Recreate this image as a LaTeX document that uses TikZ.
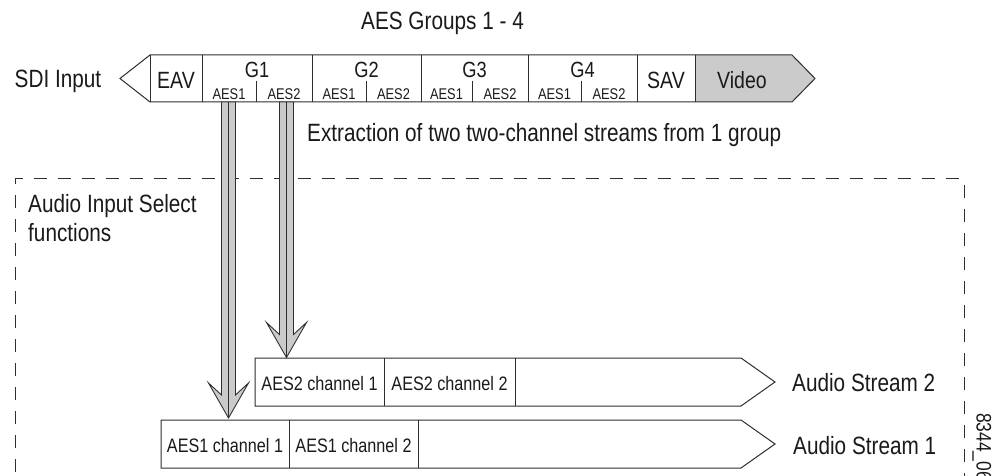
\documentclass[tikz,border=0pt]{standalone}
\usepackage{fontspec}
\setmainfont[FakeStretch=0.83]{Liberation Sans}
\usetikzlibrary{calc}
\definecolor{ln}{HTML}{2E2E2E}
\definecolor{tx}{HTML}{1A1A1A}
\definecolor{fillg}{HTML}{CBCBCB}
\newcommand\fatarrow[2]{%
  \filldraw[arrowbody] let \p1=(#1), \p2=(#2) in
    (\x1-7pt,\y1) -- (\x1-7pt,\y2+23pt) -- (\x1-20pt,\y2+35pt) -- (\x2,\y2)
    -- (\x1+20pt,\y2+35pt) -- (\x1+7pt,\y2+23pt) -- (\x1+7pt,\y1) -- cycle;
  \draw[arrowmid] (#1) -- (#2);}
\begin{document}
\begin{tikzpicture}[x=1pt,y=-1pt,
  outl/.style={draw=ln,line width=1pt},
  arrowbody/.style={draw=ln,fill=fillg,line width=0.9pt,line join=miter},
  arrowmid/.style={draw=ln,line width=0.9pt},
  dashbox/.style={draw=ln,line width=1pt,dash pattern=on 13pt off 11pt},
  big/.style={font=\fontsize{25}{28}\selectfont,text=tx,inner sep=0pt},
  mid/.style={font=\fontsize{23.5}{26}\selectfont,text=tx,inner sep=0pt},
  glab/.style={font=\fontsize{22}{24}\selectfont,text=tx,inner sep=0pt},
  small/.style={font=\fontsize{15.5}{17}\selectfont,text=tx,inner sep=0pt},
  chan/.style={font=\fontsize{19.5}{22}\selectfont,text=tx,inner sep=0pt},
  tiny/.style={font=\fontsize{21}{23}\selectfont,text=tx,inner sep=0pt},
]
\useasboundingbox (0,0) rectangle (997,476);
\clip (0,0) rectangle (997,476);
\fill[white] (0,0) rectangle (997,476);

% dashed frame
\draw[dashbox] (15,520) -- (15,179) -- (964,179) -- (964,520);

% SDI input bar
\fill[fillg] (695,55) -- (792,55) -- (815,78.5) -- (792,102) -- (695,102) -- cycle;
\draw[outl] (150,55) -- (792,55) -- (815,78.5) -- (792,102) -- (150,102) -- (120,78.5) -- cycle;
\foreach \xx in {150,202,312,421,528,637,695} \draw[outl] (\xx,55) -- (\xx,102);
\foreach \xx in {256,366,472,581} \draw[outl] (\xx,81) -- (\xx,102);

\node[big,anchor=base] (groups) at (442.5,30) {AES Groups 1 - 4};
\node[big,anchor=base] (sdi) at (58,88) {SDI Input};
\node[mid,anchor=base] (eav) at (176,89) {EAV};
\node[mid,anchor=base] (sav) at (666,89) {SAV};
\node[mid,anchor=base] (video) at (742,89) {Video};
\node[glab,anchor=base] (g1) at (257,78) {G1};
\node[glab,anchor=base] (g2) at (366.5,78) {G2};
\node[glab,anchor=base] (g3) at (474.5,78) {G3};
\node[glab,anchor=base] (g4) at (582.5,78) {G4};
\node[small,anchor=base] (g1a1) at (229,100) {AES1};
\node[small,anchor=base] (g1a2) at (284,100) {AES2};
\node[small,anchor=base] (g2a1) at (339,100) {AES1};
\node[small,anchor=base] (g2a2) at (393.5,100) {AES2};
\node[small,anchor=base] (g3a1) at (446.5,100) {AES1};
\node[small,anchor=base] (g3a2) at (500,100) {AES2};
\node[small,anchor=base] (g4a1) at (554.5,100) {AES1};
\node[small,anchor=base] (g4a2) at (609,100) {AES2};

\node[big,anchor=base west] (extr) at (307,142) {Extraction of two two-channel streams from 1 group};
\node[big,anchor=base west] (ais1) at (28,213) {Audio Input Select};
\node[big,anchor=base west] (ais2) at (28,241) {functions};

% audio streams
\draw[outl] (255,358) -- (741,358) -- (775,382) -- (741,406) -- (255,406) -- cycle;
\draw[outl] (384,358) -- (384,406);
\draw[outl] (515,358) -- (515,406);
\draw[outl] (161,420) -- (741,420) -- (775,444) -- (741,468) -- (161,468) -- cycle;
\draw[outl] (289,420) -- (289,468);
\draw[outl] (418,420) -- (418,468);

\node[chan,anchor=base] (s2c1) at (319.5,390) {AES2 channel 1};
\node[chan,anchor=base] (s2c2) at (449.5,390) {AES2 channel 2};
\node[chan,anchor=base] (s1c1) at (225,452) {AES1 channel 1};
\node[chan,anchor=base] (s1c2) at (353.5,452) {AES1 channel 2};
\node[big,anchor=base west] (as2) at (792,391.5) {Audio Stream 2};
\node[big,anchor=base west] (as1) at (793,454) {Audio Stream 1};
\node[tiny,anchor=base west,rotate=-90] (fig) at (976.5,413) {8344\_06};

% extraction arrows
\coordinate (a1s) at (228.5,102);
\coordinate (a1e) at (228.5,418);
\coordinate (a2s) at (286.5,102);
\coordinate (a2e) at (286.5,357.5);
\fatarrow{a1s}{a1e}
\fatarrow{a2s}{a2e}
\end{tikzpicture}
\end{document}
